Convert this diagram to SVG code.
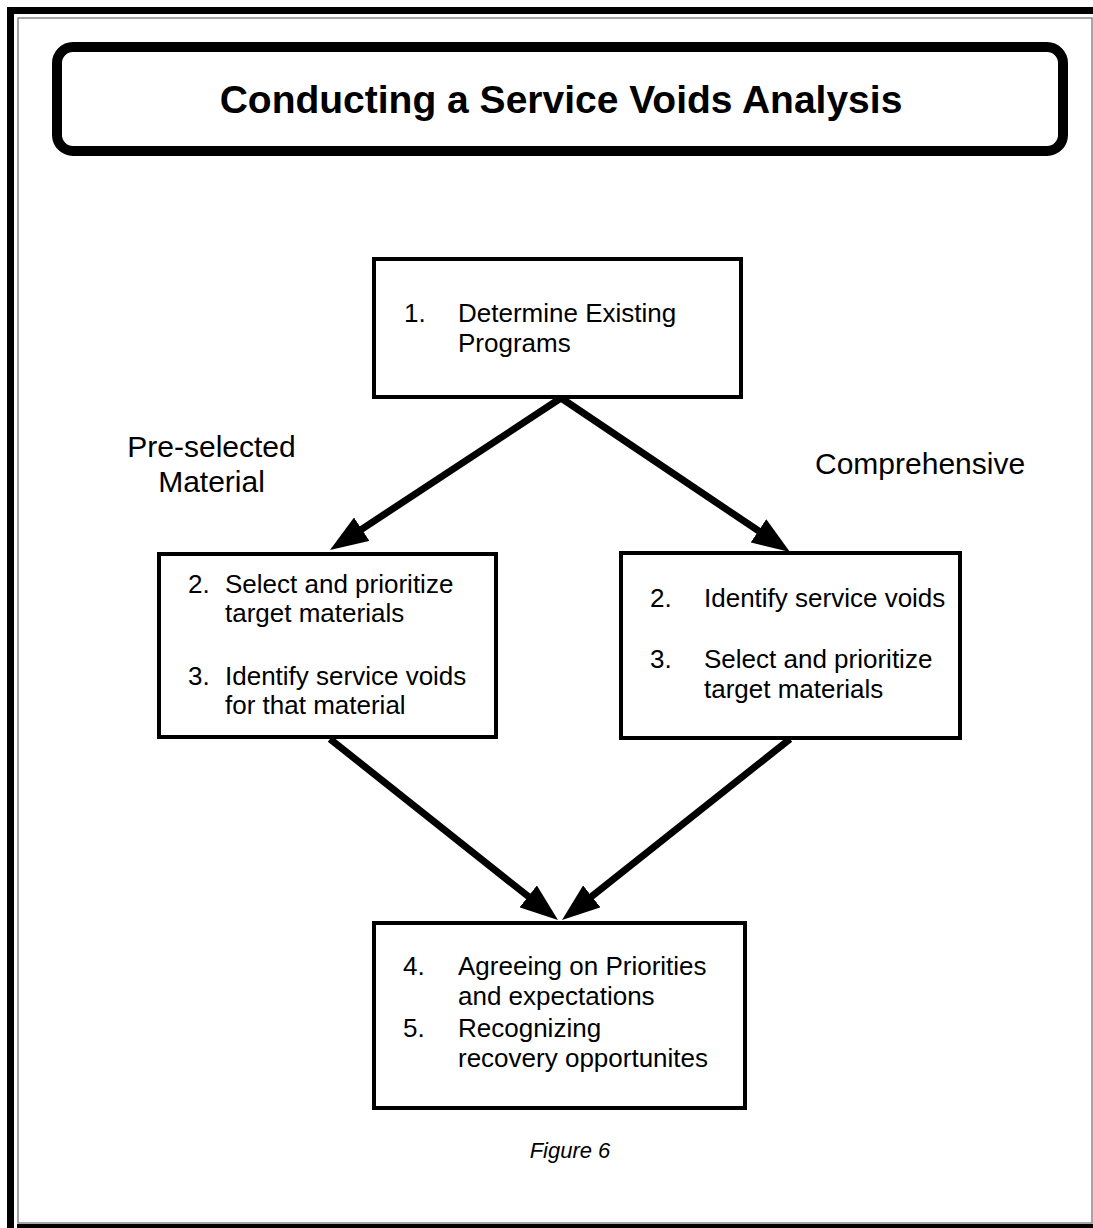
<svg xmlns="http://www.w3.org/2000/svg" width="1093" height="1228" viewBox="0 0 1093 1228">
<defs>
<style>
.box{fill:#fff;stroke:#000;stroke-width:4}
.t{font-family:"Liberation Sans",Arial,sans-serif;font-size:26px;fill:#000}
.lbl{font-family:"Liberation Sans",Arial,sans-serif;font-size:30px;fill:#000}
.title{font-family:"Liberation Sans",Arial,sans-serif;font-size:39px;font-weight:bold;fill:#000}
.fig{font-family:"Liberation Sans",Arial,sans-serif;font-size:22px;font-style:italic;fill:#000}
.conn{stroke:#000;stroke-width:7;fill:none;marker-end:url(#ah)}
</style>
<marker id="ah" markerUnits="userSpaceOnUse" viewBox="0 0 38 28" refX="18" refY="14" markerWidth="38" markerHeight="28" orient="auto">
<path d="M0,0 L38,14 L0,28 Z" fill="#000"/>
</marker>
</defs>
<rect width="1093" height="1228" fill="#fff"/>
<g id="frame">
<rect x="18" y="18" width="1074" height="1205" fill="none" stroke="#888" stroke-width="1.5"/>
<rect x="7" y="7" width="7" height="1221" fill="#000"/>
<rect x="7" y="7" width="1086" height="7" fill="#000"/>
<rect x="17" y="1224" width="1076" height="4" fill="#000"/>
</g>
<g id="title">
<rect x="57" y="47" width="1006" height="104" rx="16" ry="16" fill="#fff" stroke="#000" stroke-width="10"/>
<text class="title" x="561" y="113" text-anchor="middle">Conducting a Service Voids Analysis</text>
</g>
<g id="connectors">
<line class="conn" x1="561" y1="398" x2="346.7" y2="539.1"/>
<line class="conn" x1="561" y1="398" x2="773.4" y2="540.9"/>
<line class="conn" x1="330" y1="739" x2="542.3" y2="907.6"/>
<line class="conn" x1="790" y1="739" x2="577.7" y2="907.6"/>
</g>
<g id="step1">
<rect class="box" x="374" y="259" width="367" height="138"/>
<text class="t" x="404" y="322">1.</text>
<text class="t" x="458" y="322">Determine Existing</text>
<text class="t" x="458" y="352">Programs</text>
</g>
<g id="label-preselected">
<text class="lbl" x="211.5" y="457" text-anchor="middle">Pre-selected</text>
<text class="lbl" x="211.5" y="492" text-anchor="middle">Material</text>
</g>
<g id="label-comprehensive">
<text class="lbl" x="815" y="474">Comprehensive</text>
</g>
<g id="left-path">
<rect class="box" x="159" y="554" width="337" height="183"/>
<text class="t" x="188" y="593">2.</text>
<text class="t" x="225" y="593">Select and prioritize</text>
<text class="t" x="225" y="622">target materials</text>
<text class="t" x="188" y="685">3.</text>
<text class="t" x="225" y="685">Identify service voids</text>
<text class="t" x="225" y="714">for that material</text>
</g>
<g id="right-path">
<rect class="box" x="621" y="553" width="339" height="185"/>
<text class="t" x="650" y="607">2.</text>
<text class="t" x="704" y="607">Identify service voids</text>
<text class="t" x="650" y="668">3.</text>
<text class="t" x="704" y="668">Select and prioritize</text>
<text class="t" x="704" y="698">target materials</text>
</g>
<g id="step4-5">
<rect class="box" x="374" y="923" width="371" height="185"/>
<text class="t" x="403" y="975">4.</text>
<text class="t" x="458" y="975">Agreeing on Priorities</text>
<text class="t" x="458" y="1005">and expectations</text>
<text class="t" x="403" y="1037">5.</text>
<text class="t" x="458" y="1037">Recognizing</text>
<text class="t" x="458" y="1067">recovery opportunites</text>
</g>
<g id="caption">
<text class="fig" x="570" y="1158" text-anchor="middle">Figure 6</text>
</g>
</svg>
